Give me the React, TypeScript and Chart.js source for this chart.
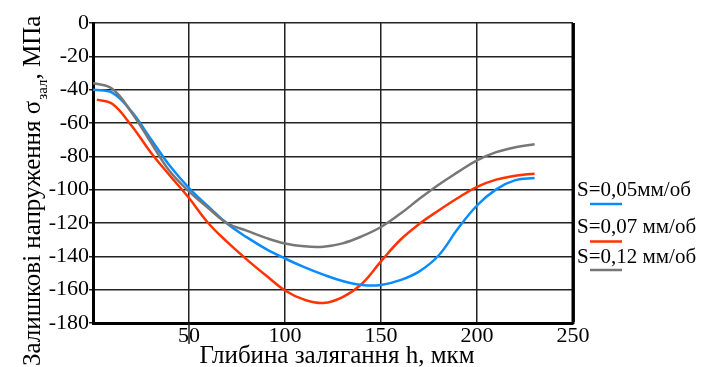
import React, { useEffect, useRef } from "react";
import { Chart, registerables } from "chart.js";

Chart.register(...registerables);

const X_TICKS = [0, 50, 100, 150, 200, 250];
const Y_MIN = -180;
const Y_MAX = 0;

const depth005 = [0, 10, 20, 30, 40, 50, 60, 70, 80, 90, 100, 110, 120, 130, 140, 150, 160, 170, 180, 190, 200, 210, 220, 230];
const stress005 = [-40, -41.8, -53, -69.4, -85.7, -99, -110, -120.5, -128.5, -135.5, -141.3, -146.5, -151, -154.8, -157.2, -157.2, -154.3, -149, -139.5, -123.5, -109.5, -99.8, -94.3, -93];

const depth007 = [2, 10, 20, 30, 40, 50, 60, 70, 80, 90, 100, 110, 120, 130, 140, 150, 160, 170, 180, 190, 200, 210, 220, 230];
const stress007 = [-46, -48.5, -61.5, -77.5, -91.5, -105, -120, -131.5, -141.8, -151.4, -160.5, -166, -168, -164.5, -156.5, -143, -130.2, -120.5, -112.5, -105, -98.3, -94, -91.6, -90.4];

const depth012 = [0, 10, 20, 30, 40, 50, 60, 70, 80, 90, 100, 110, 120, 130, 140, 150, 160, 170, 180, 190, 200, 210, 220, 230];
const stress012 = [-36, -39.5, -53.5, -71.4, -89, -101, -111, -120.2, -124.6, -128.9, -132.3, -134, -134.2, -132.2, -128, -122.4, -114.5, -105.5, -97, -89.5, -82.4, -77.5, -74.5, -72.8];

const seriesLabels = ["S=0,05мм/об", "S=0,07 мм/об", "S=0,12 мм/об"];
const seriesColors = ["#0a8cff", "#ff3300", "#777777"];

const yTitleMain = "Залишкові напруження σ";
const yTitleSub = "зал";
const yTitleEnd = ", МПа";
const xTitle = "Глибина залягання h, мкм";

const FAMILY = "Liberation Serif";

Chart.defaults.font.family = FAMILY;

const toPoints = (xs: number[], ys: number[]) => xs.map((x, i) => ({ x, y: ys[i] }));

const overlayPlugin = {
  id: "overlay",
  afterDraw(chart: any) {
    const { ctx, chartArea, scales } = chart;
    ctx.save();
    ctx.strokeStyle = "#000";
    ctx.lineWidth = 3;
    ctx.beginPath();
    ctx.moveTo(chartArea.right, chartArea.top);
    ctx.lineTo(chartArea.right, chartArea.bottom + 1);
    ctx.stroke();
    const x50 = scales.x.getPixelForValue(50);
    ctx.lineWidth = 1.5;
    ctx.strokeStyle = "#222";
    ctx.beginPath();
    ctx.moveTo(x50, chartArea.bottom);
    ctx.lineTo(x50, chartArea.bottom + 21);
    ctx.stroke();

    ctx.fillStyle = "#000";
    ctx.translate(40, 366);
    ctx.rotate(-Math.PI / 2);
    ctx.textAlign = "left";
    ctx.textBaseline = "alphabetic";
    ctx.font = `25px "${FAMILY}"`;
    ctx.fillText(yTitleMain, 0, 0);
    let w = ctx.measureText(yTitleMain).width;
    ctx.font = `15px "${FAMILY}"`;
    ctx.fillText(yTitleSub, w + 1, 7);
    w += 1 + ctx.measureText(yTitleSub).width;
    ctx.font = `25px "${FAMILY}"`;
    ctx.fillText(yTitleEnd, w, 0);
    ctx.restore();

    ctx.save();
    ctx.fillStyle = "#000";
    ctx.font = `25px "${FAMILY}"`;
    ctx.textAlign = "center";
    ctx.textBaseline = "alphabetic";
    ctx.fillText(xTitle, 337, 363);

    const baselines = [196, 233, 263];
    const underlines = [204, 241.5, 270];
    ctx.textAlign = "left";
    ctx.font = `21px "${FAMILY}"`;
    seriesLabels.forEach((lab, i) => {
      ctx.fillStyle = "#000";
      ctx.fillText(lab, 577, baselines[i]);
      ctx.strokeStyle = seriesColors[i];
      ctx.lineWidth = 2.5;
      ctx.beginPath();
      ctx.moveTo(590, underlines[i]);
      ctx.lineTo(622, underlines[i]);
      ctx.stroke();
    });
    ctx.restore();
  },
};

export default function App() {
  const ref = useRef<HTMLCanvasElement | null>(null);
  useEffect(() => {
    if (!ref.current) return;
    const mk = (i: number, xs: number[], ys: number[]) => ({
      label: seriesLabels[i],
      data: toPoints(xs, ys),
      borderColor: seriesColors[i],
      backgroundColor: seriesColors[i],
      borderWidth: 2.5,
      pointRadius: 0,
      tension: 0.4,
      fill: false,
    });
    const chart = new Chart(ref.current, {
      type: "line",
      data: {
        datasets: [
          mk(2, depth012, stress012),
          mk(0, depth005, stress005),
          mk(1, depth007, stress007),
        ],
      },
      options: {
        responsive: false,
        animation: false,
        layout: { padding: { top: 23, right: 142, left: 0, bottom: 0 } },
        plugins: { legend: { display: false }, tooltip: { enabled: false }, title: { display: false } },
        scales: {
          x: {
            type: "linear",
            min: X_TICKS[0],
            max: X_TICKS[X_TICKS.length - 1],
            afterBuildTicks: (s: any) => {
              s.ticks = X_TICKS.map((v) => ({ value: v }));
            },
            afterFit: (s: any) => {
              s.height = 44;
            },
            ticks: {
              color: "#000",
              font: { family: FAMILY, size: 22 },
              padding: 0,
              maxRotation: 0,
              autoSkip: false,
              callback: (v: any) => (v === 0 ? "" : String(v)),
            },
            grid: {
              color: "#222",
              lineWidth: (c: any) => (c.tick && c.tick.value === 250 ? 3 : 1.5),
              drawTicks: false,
            },
            border: { display: true, color: "#000", width: 3 },
          },
          y: {
            type: "linear",
            min: Y_MIN,
            max: Y_MAX,
            ticks: {
              stepSize: 20,
              color: "#000",
              font: { family: FAMILY, size: 22 },
              padding: 0,
            },
            afterFit: (s: any) => {
              s.width = 93;
            },
            grid: { color: "#222", lineWidth: 1.5, tickLength: 4 },
            border: { display: true, color: "#000", width: 3 },
          },
        },
      },
      plugins: [overlayPlugin],
    });
    return () => chart.destroy();
  }, []);
  return (
    <div style={{ position: "fixed", left: 0, top: 0, width: 715, height: 367, background: "#fff" }}>
      <canvas ref={ref} width={715} height={367} />
    </div>
  );
}
